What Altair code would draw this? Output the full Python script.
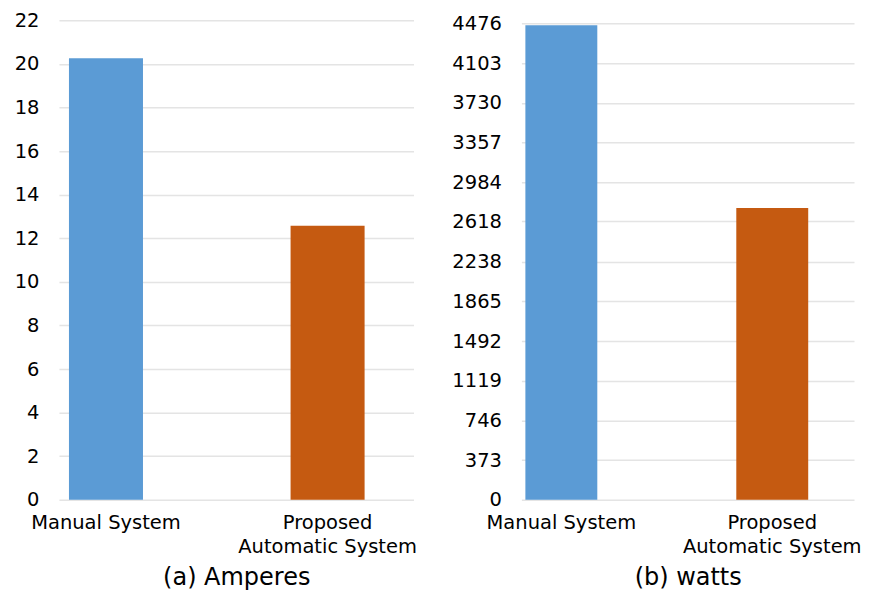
import altair as alt
import pandas as pd

categories = ["Manual System", "Proposed Automatic System"]
amperes = [20.26, 12.57]
watts = [4460, 2743]
amp_ticks = [0, 2, 4, 6, 8, 10, 12, 14, 16, 18, 20, 22]
watt_ticks = [0, 373, 746, 1119, 1492, 1865, 2238, 2618, 2984, 3357, 3730, 4103, 4476]
colors = ["#5B9BD5", "#C55A11"]
titles = ["(a) Amperes", "(b) watts"]

FONT = "DejaVu Sans"

label_expr = ("datum.value == 'Proposed Automatic System' ? "
              "['Proposed', 'Automatic System'] : datum.label")


def panel(values, ticks, ymax, title, width, height, pi, po, al):
    df = pd.DataFrame({"category": categories, "value": values})
    return alt.Chart(df).mark_bar().encode(
        x=alt.X(
            "category:N",
            sort=categories,
            scale=alt.Scale(paddingInner=pi, paddingOuter=po, align=al),
            axis=alt.Axis(
                title=title,
                labelAngle=0,
                labelExpr=label_expr,
                labelFont=FONT,
                labelFontSize=19.5,
                labelColor="#000000",
                labelLineHeight=24,
                labelPadding=14,
                labelBaseline="top",
                domain=False,
                ticks=False,
                titleFont=FONT,
                titleFontSize=24,
                titleFontWeight="normal",
                titleColor="#000000",
                titlePadding=9,
            ),
        ),
        y=alt.Y(
            "value:Q",
            scale=alt.Scale(domain=[0, ymax], nice=False),
            axis=alt.Axis(
                values=ticks,
                format="d",
                title=None,
                domain=False,
                ticks=False,
                labelFont=FONT,
                labelFontSize=19.5,
                labelColor="#000000",
                labelPadding=20,
                gridColor="#e4e4e4",
                gridWidth=1.5,
            ),
        ),
        color=alt.Color(
            "category:N",
            scale=alt.Scale(domain=categories, range=colors),
            legend=None,
        ),
    ).properties(width=width, height=height)


H = 480
left = panel(amperes, amp_ticks, 22, titles[0], 355, H, 0.666, 0.133, 0.17)
right = panel(watts, watt_ticks, 4476 * H / (H - 3.3), titles[1], 333, H, 0.659, 0.118, 0.08)

chart = alt.hconcat(left, right, spacing=35).properties(
    padding={"left": 6, "top": 2, "right": 0, "bottom": 0}
).configure_view(stroke=None).configure_concat(spacing=35)

chart.save("out.html", embed_options={"renderer": "svg", "actions": False})
